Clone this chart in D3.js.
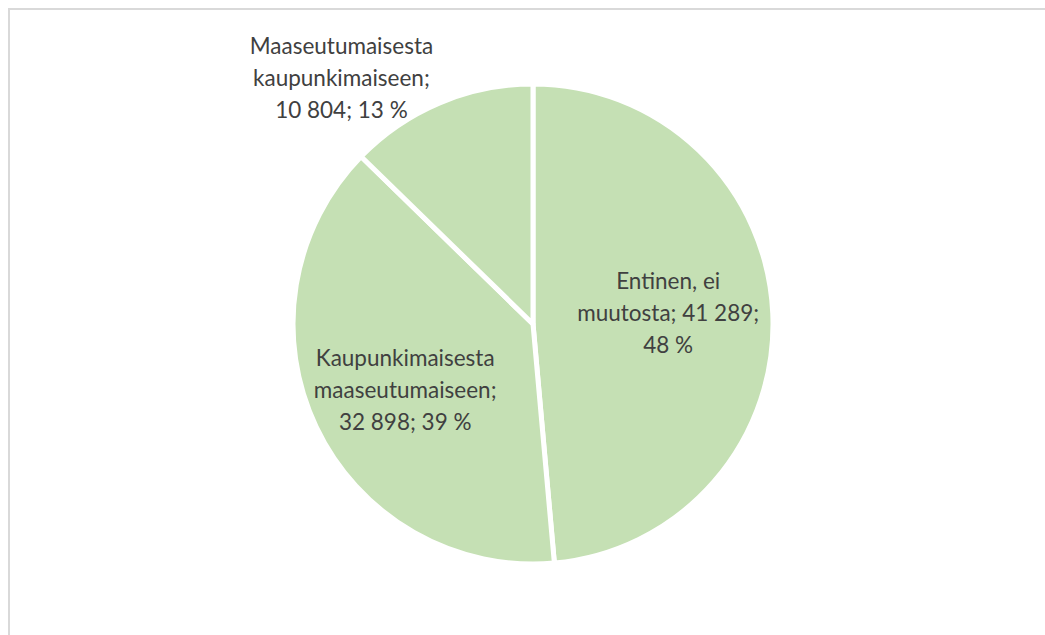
<!DOCTYPE html>
<html>
<head>
<meta charset="utf-8">
<script src="https://cdn.jsdelivr.net/npm/d3@7"></script>
<style>
  body { margin: 0; background: #fff; }
  svg { display: block; }
</style>
</head>
<body>
<div id="chart"></div>
<script>
// data
const categories = ['Entinen, ei muutosta', 'Kaupunkimaisesta maaseutumaiseen', 'Maaseutumaisesta kaupunkimaiseen'];
const values = [41289, 32898, 10804];
const percentLabels = ['48 %', '39 %', '13 %'];
// label lines as Excel wrapped them
const labelLines = [
  ['Entinen, ei', 'muutosta; 41 289;', '48 %'],
  ['Kaupunkimaisesta', 'maaseutumaiseen;', '32 898; 39 %'],
  ['Maaseutumaisesta', 'kaupunkimaiseen;', '10 804; 13 %']
];

const width = 1045, height = 635;
const cx = 533, cy = 324, radius = 240;

// label placement (radius factor and angle shift in degrees)
const labelRadius = [0.565, 0.6, 1.3];
const labelShift = [-2, -2, -15];

const svg = d3.select('#chart').append('svg')
  .attr('width', width)
  .attr('height', height);

// chart frame
svg.append('rect')
  .attr('x', 9).attr('y', 9)
  .attr('width', width + 20).attr('height', height + 20)
  .attr('fill', '#fff')
  .attr('stroke', '#d9d9d9')
  .attr('stroke-width', 2);

const pie = d3.pie().sort(null).value(d => d)(values);
const arc = d3.arc().innerRadius(0).outerRadius(radius);

const g = svg.append('g').attr('transform', `translate(${cx},${cy})`);

g.selectAll('path.slice')
  .data(pie)
  .enter()
  .append('path')
  .attr('class', 'slice')
  .attr('d', arc)
  .attr('fill', '#c5e0b4')
  .attr('stroke', '#fff')
  .attr('stroke-width', 5)
  .attr('stroke-linejoin', 'round');

// data labels
const lineH = 32;
pie.forEach((d, i) => {
  const a = (d.startAngle + d.endAngle) / 2 + labelShift[i] * Math.PI / 180;
  const r = radius * labelRadius[i];
  const x = r * Math.sin(a);
  const y = -r * Math.cos(a);
  const lines = labelLines[i];
  const t = g.append('text')
    .attr('text-anchor', 'middle')
    .style('font-family', 'Lato, "Open Sans", sans-serif')
    .style('font-size', '22.5px')
    .style('fill', '#404040');
  lines.forEach((ln, j) => {
    t.append('tspan')
      .attr('x', x)
      .attr('y', y + (j - (lines.length - 1) / 2) * lineH + 8)
      .text(ln);
  });
});
</script>
</body>
</html>
